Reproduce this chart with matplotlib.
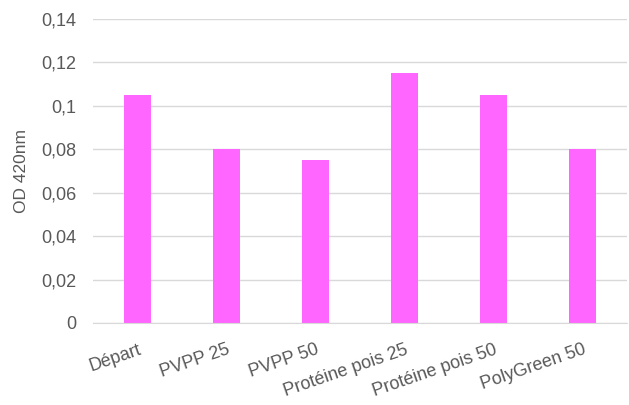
import matplotlib.pyplot as plt
from matplotlib.ticker import FuncFormatter

plt.rcParams['font.family'] = ['Liberation Sans', 'DejaVu Sans']

categories = ["Départ", "PVPP 25", "PVPP 50", "Protéine pois 25", "Protéine pois 50", "PolyGreen 50"]
od_values = [0.105, 0.08, 0.075, 0.115, 0.105, 0.08]

fig = plt.figure(figsize=(6.29, 4.05), dpi=100)
ax = fig.add_axes([0.148, 0.2025, 0.849, 0.7505])

x = range(len(categories))
ax.bar(x, od_values, width=0.31, color="#FF66FF", zorder=3)

ax.set_xlim(-0.5, len(categories) - 0.5)
ax.set_ylim(0, 0.14)
ax.set_yticks([i * 0.02 for i in range(8)])
ax.yaxis.set_major_formatter(FuncFormatter(lambda v, p: ("%g" % round(v, 2)).replace(".", ",")))
ax.grid(axis="y", color="#D9D9D9", linewidth=1, zorder=0)

for s in ["top", "right", "left"]:
    ax.spines[s].set_visible(False)
ax.spines["bottom"].set_color("#D9D9D9")
ax.spines["bottom"].set_zorder(4)

ax.set_xticks(list(x))
ax.set_xticklabels(categories, rotation=19, ha="right", rotation_mode="anchor")
ax.tick_params(axis="both", length=0, labelsize=13, colors="#595959")
ax.tick_params(axis="x", pad=13)
ax.tick_params(axis="y", pad=12)
ax.set_ylabel("OD 420nm", fontsize=12.5, color="#595959", labelpad=9)

fig.savefig("out.png", dpi=100)
